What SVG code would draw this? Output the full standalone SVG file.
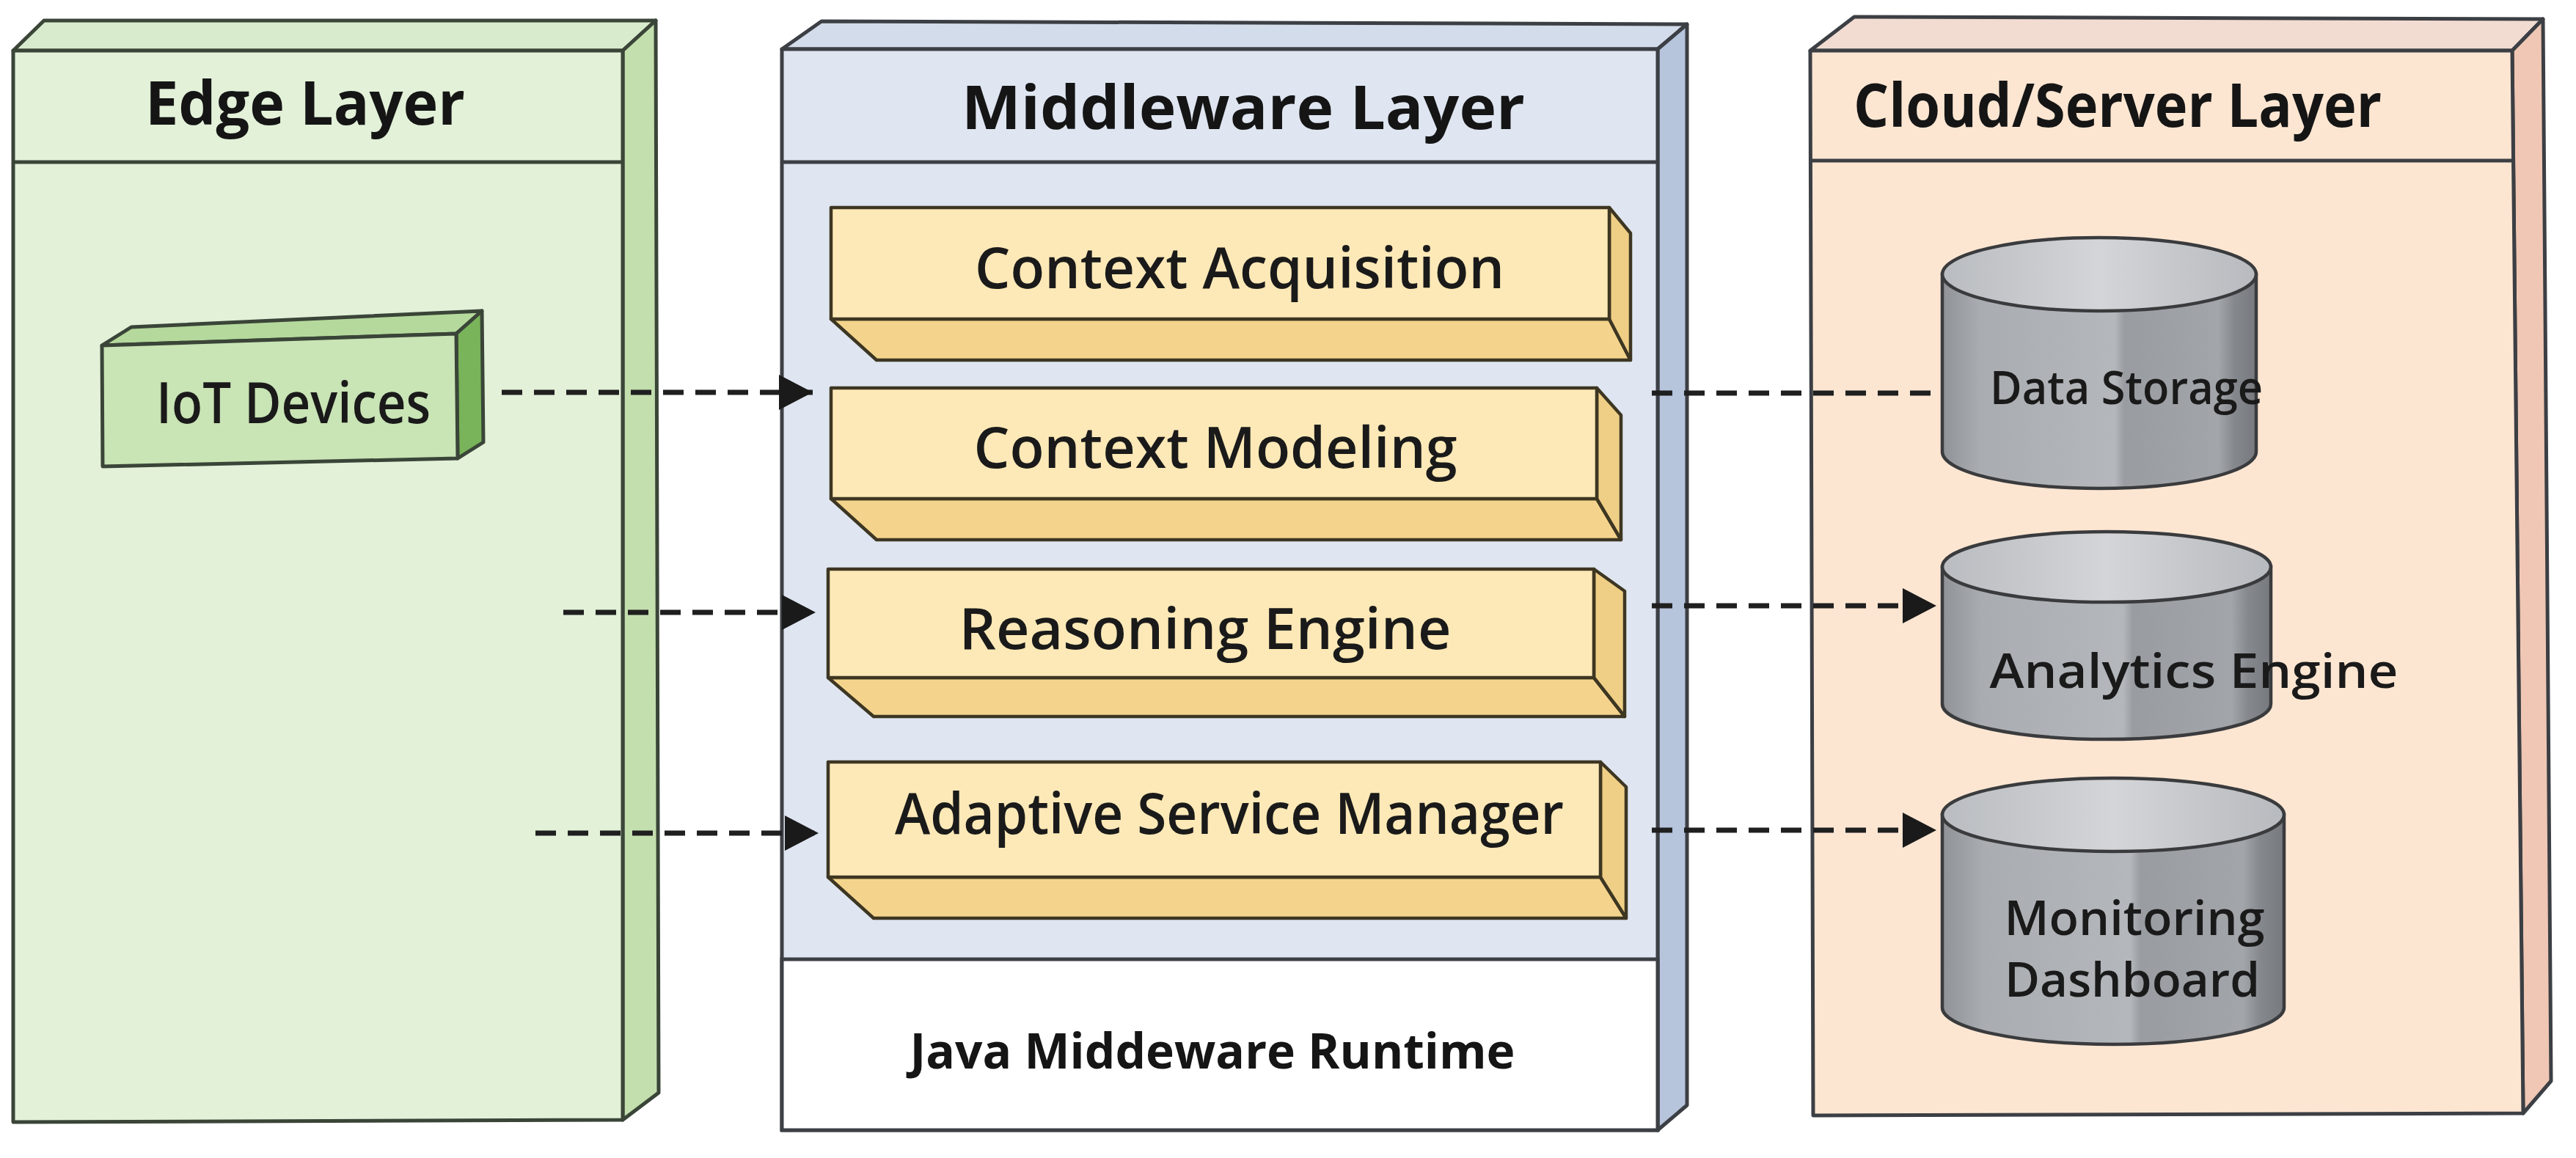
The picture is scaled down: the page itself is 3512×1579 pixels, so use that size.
<svg xmlns="http://www.w3.org/2000/svg" width="3512" height="1579" viewBox="0 0 3512 1579">
<defs>
<style>
.edge{stroke:#3a4538;stroke-width:5;stroke-linejoin:round}
.frame{stroke:#3c3f44;stroke-width:5;stroke-linejoin:round}
.mod{stroke:#3d3622;stroke-width:4.5;stroke-linejoin:round}
.cyl{stroke:#3a3b3d;stroke-width:4.5}
.title{font-family:"Open Sans","Noto Sans",sans-serif;font-weight:700;font-size:82px;fill:#151515;text-anchor:middle}
.lbl{font-family:"Open Sans","Noto Sans",sans-serif;font-weight:600;font-size:78px;fill:#1a1a1a;text-anchor:middle}
.clbl{font-family:"Open Sans","Noto Sans",sans-serif;font-weight:600;font-size:64px;fill:#1a1a1a;text-anchor:middle}
.conn{stroke:#1f1f1f;stroke-width:7;stroke-dasharray:28 16;fill:none}
</style>
<linearGradient id="cylBody" x1="0" y1="0" x2="1" y2="0">
<stop offset="0" stop-color="#8f9296"/>
<stop offset="0.12" stop-color="#a9acb0"/>
<stop offset="0.55" stop-color="#b4b7bb"/>
<stop offset="0.58" stop-color="#999ca1"/>
<stop offset="0.88" stop-color="#a2a5a9"/>
<stop offset="0.93" stop-color="#85888d"/>
<stop offset="1" stop-color="#76797e"/>
</linearGradient>
<linearGradient id="cylTop" x1="0" y1="0" x2="1" y2="0">
<stop offset="0" stop-color="#b9bcc0"/>
<stop offset="0.5" stop-color="#d3d5d8"/>
<stop offset="1" stop-color="#b7babe"/>
</linearGradient>
<marker id="arrow" viewBox="0 0 46 48" markerUnits="userSpaceOnUse" markerWidth="46" markerHeight="48" refX="46" refY="24" orient="auto">
<path d="M0,0 L46,24 L0,48 Z" fill="#1a1a1a"/>
</marker>
</defs>
<rect width="3512" height="1579" fill="#ffffff"/>

<g id="edge-layer">
<polygon class="edge" points="18,69 60,28 894,28 849,69" fill="#d9ebcd"/>
<polygon class="edge" points="849,69 894,28 898,1490 849,1527" fill="#c4dfae"/>
<polygon class="edge" points="18,69 849,69 849,1527 18,1530" fill="#e2f1d8"/>
<line class="edge" x1="18" y1="221" x2="849" y2="221"/>
<text class="title" x="416" y="170" textLength="436" lengthAdjust="spacingAndGlyphs">Edge Layer</text>
</g>

<g id="iot-devices">
<polygon class="edge" points="139,471 179,446 657,424 622,455" fill="#b5d99c"/>
<polygon class="edge" points="622,455 657,424 659,603 624,625" fill="#79b35a"/>
<polygon class="edge" points="139,471 622,455 624,625 140,636" fill="#c9e4b5"/>
<text class="lbl" x="400" y="577" textLength="374" lengthAdjust="spacingAndGlyphs">IoT Devices</text>
</g>

<g id="middleware-layer">
<polygon class="frame" points="1066,67 1120,29 2300,33 2260,67" fill="#d3dcea"/>
<polygon class="frame" points="2260,67 2300,33 2300,1507 2260,1541" fill="#b6c4dc"/>
<polygon class="frame" points="1066,67 2260,67 2260,1541 1066,1541" fill="#dfe6f1"/>
<rect x="1066" y="1308" width="1194" height="233" fill="#ffffff" stroke="#3c3f44" stroke-width="5"/>
<line class="frame" x1="1066" y1="221" x2="2260" y2="221"/>
<text class="title" x="1695" y="176" textLength="768" lengthAdjust="spacingAndGlyphs">Middleware Layer</text>
<text class="title" x="1653" y="1457" style="font-size:66px" textLength="825" lengthAdjust="spacingAndGlyphs">Java Middeware Runtime</text>
</g>

<g id="context-acquisition">
<polygon class="mod" points="1133,435 1195,491 2223,491 2194,435" fill="#f4d48c"/>
<polygon class="mod" points="2194,283 2223,318 2223,491 2194,435" fill="#efcf86"/>
<rect class="mod" x="1133" y="283" width="1061" height="152" fill="#fde9b7"/>
<text class="lbl" x="1690" y="393" textLength="722" lengthAdjust="spacingAndGlyphs">Context Acquisition</text>
</g>

<g id="context-modeling">
<polygon class="mod" points="1133,680 1195,736 2210,736 2177,680" fill="#f4d48c"/>
<polygon class="mod" points="2177,529 2210,566 2210,736 2177,680" fill="#efcf86"/>
<rect class="mod" x="1133" y="529" width="1044" height="151" fill="#fde9b7"/>
<text class="lbl" x="1657" y="638" textLength="659" lengthAdjust="spacingAndGlyphs">Context Modeling</text>
</g>

<g id="reasoning-engine">
<polygon class="mod" points="1129,924 1191,977 2215,977 2173,924" fill="#f4d48c"/>
<polygon class="mod" points="2173,776 2215,806 2215,977 2173,924" fill="#efcf86"/>
<rect class="mod" x="1129" y="776" width="1044" height="148" fill="#fde9b7"/>
<text class="lbl" x="1643" y="885" textLength="671" lengthAdjust="spacingAndGlyphs">Reasoning Engine</text>
</g>

<g id="adaptive-service-manager">
<polygon class="mod" points="1129,1196 1191,1252 2217,1252 2182,1196" fill="#f4d48c"/>
<polygon class="mod" points="2182,1039 2217,1073 2217,1252 2182,1196" fill="#efcf86"/>
<rect class="mod" x="1129" y="1039" width="1053" height="157" fill="#fde9b7"/>
<text class="lbl" x="1676" y="1137" textLength="912" lengthAdjust="spacingAndGlyphs">Adaptive Service Manager</text>
</g>

<g id="cloud-layer">
<polygon class="frame" points="2468,69 2528,23 3467,26 3425,69" fill="#f2dcd2"/>
<polygon class="frame" points="3425,69 3467,26 3478,1474 3440,1518" fill="#efc7b4"/>
<polygon class="frame" points="2468,69 3425,69 3440,1518 2472,1521" fill="#fce6d2"/>
<line class="frame" x1="2468" y1="219" x2="3426" y2="219"/>
<text class="title" x="2887" y="173" textLength="720" lengthAdjust="spacingAndGlyphs">Cloud/Server Layer</text>
</g>

<g id="data-storage">
<path class="cyl" d="M2648,374 L2648,616 A214,50 0 0 0 3076,616 L3076,374 Z" fill="url(#cylBody)"/>
<ellipse class="cyl" cx="2862" cy="374" rx="214" ry="50" fill="url(#cylTop)"/>
<text class="clbl" x="2899" y="551" textLength="372" lengthAdjust="spacingAndGlyphs">Data Storage</text>
</g>

<g id="analytics-engine">
<path class="cyl" d="M2648,773 L2648,960 A224,48 0 0 0 3096,960 L3096,773 Z" fill="url(#cylBody)"/>
<ellipse class="cyl" cx="2872" cy="773" rx="224" ry="48" fill="url(#cylTop)"/>
<text class="clbl" x="2991" y="938" style="font-size:66px" textLength="557" lengthAdjust="spacingAndGlyphs">Analytics Engine</text>
</g>

<g id="monitoring-dashboard">
<path class="cyl" d="M2648,1111 L2648,1374 A233,50 0 0 0 3114,1374 L3114,1111 Z" fill="url(#cylBody)"/>
<ellipse class="cyl" cx="2881" cy="1111" rx="233" ry="50" fill="url(#cylTop)"/>
<text class="clbl" x="2910" y="1275" style="font-size:66px" textLength="355" lengthAdjust="spacingAndGlyphs">Monitoring</text>
<text class="clbl" x="2907" y="1359" style="font-size:66px" textLength="348" lengthAdjust="spacingAndGlyphs">Dashboard</text>
</g>

<g id="connectors">
<line class="conn" x1="684" y1="535" x2="1108" y2="535" marker-end="url(#arrow)"/>
<line class="conn" x1="768" y1="835" x2="1112" y2="835" marker-end="url(#arrow)"/>
<line class="conn" x1="730" y1="1136" x2="1116" y2="1136" marker-end="url(#arrow)"/>
<line class="conn" x1="2252" y1="536" x2="2648" y2="536"/>
<line class="conn" x1="2252" y1="826" x2="2640" y2="826" marker-end="url(#arrow)"/>
<line class="conn" x1="2252" y1="1132" x2="2640" y2="1132" marker-end="url(#arrow)"/>
</g>
</svg>
